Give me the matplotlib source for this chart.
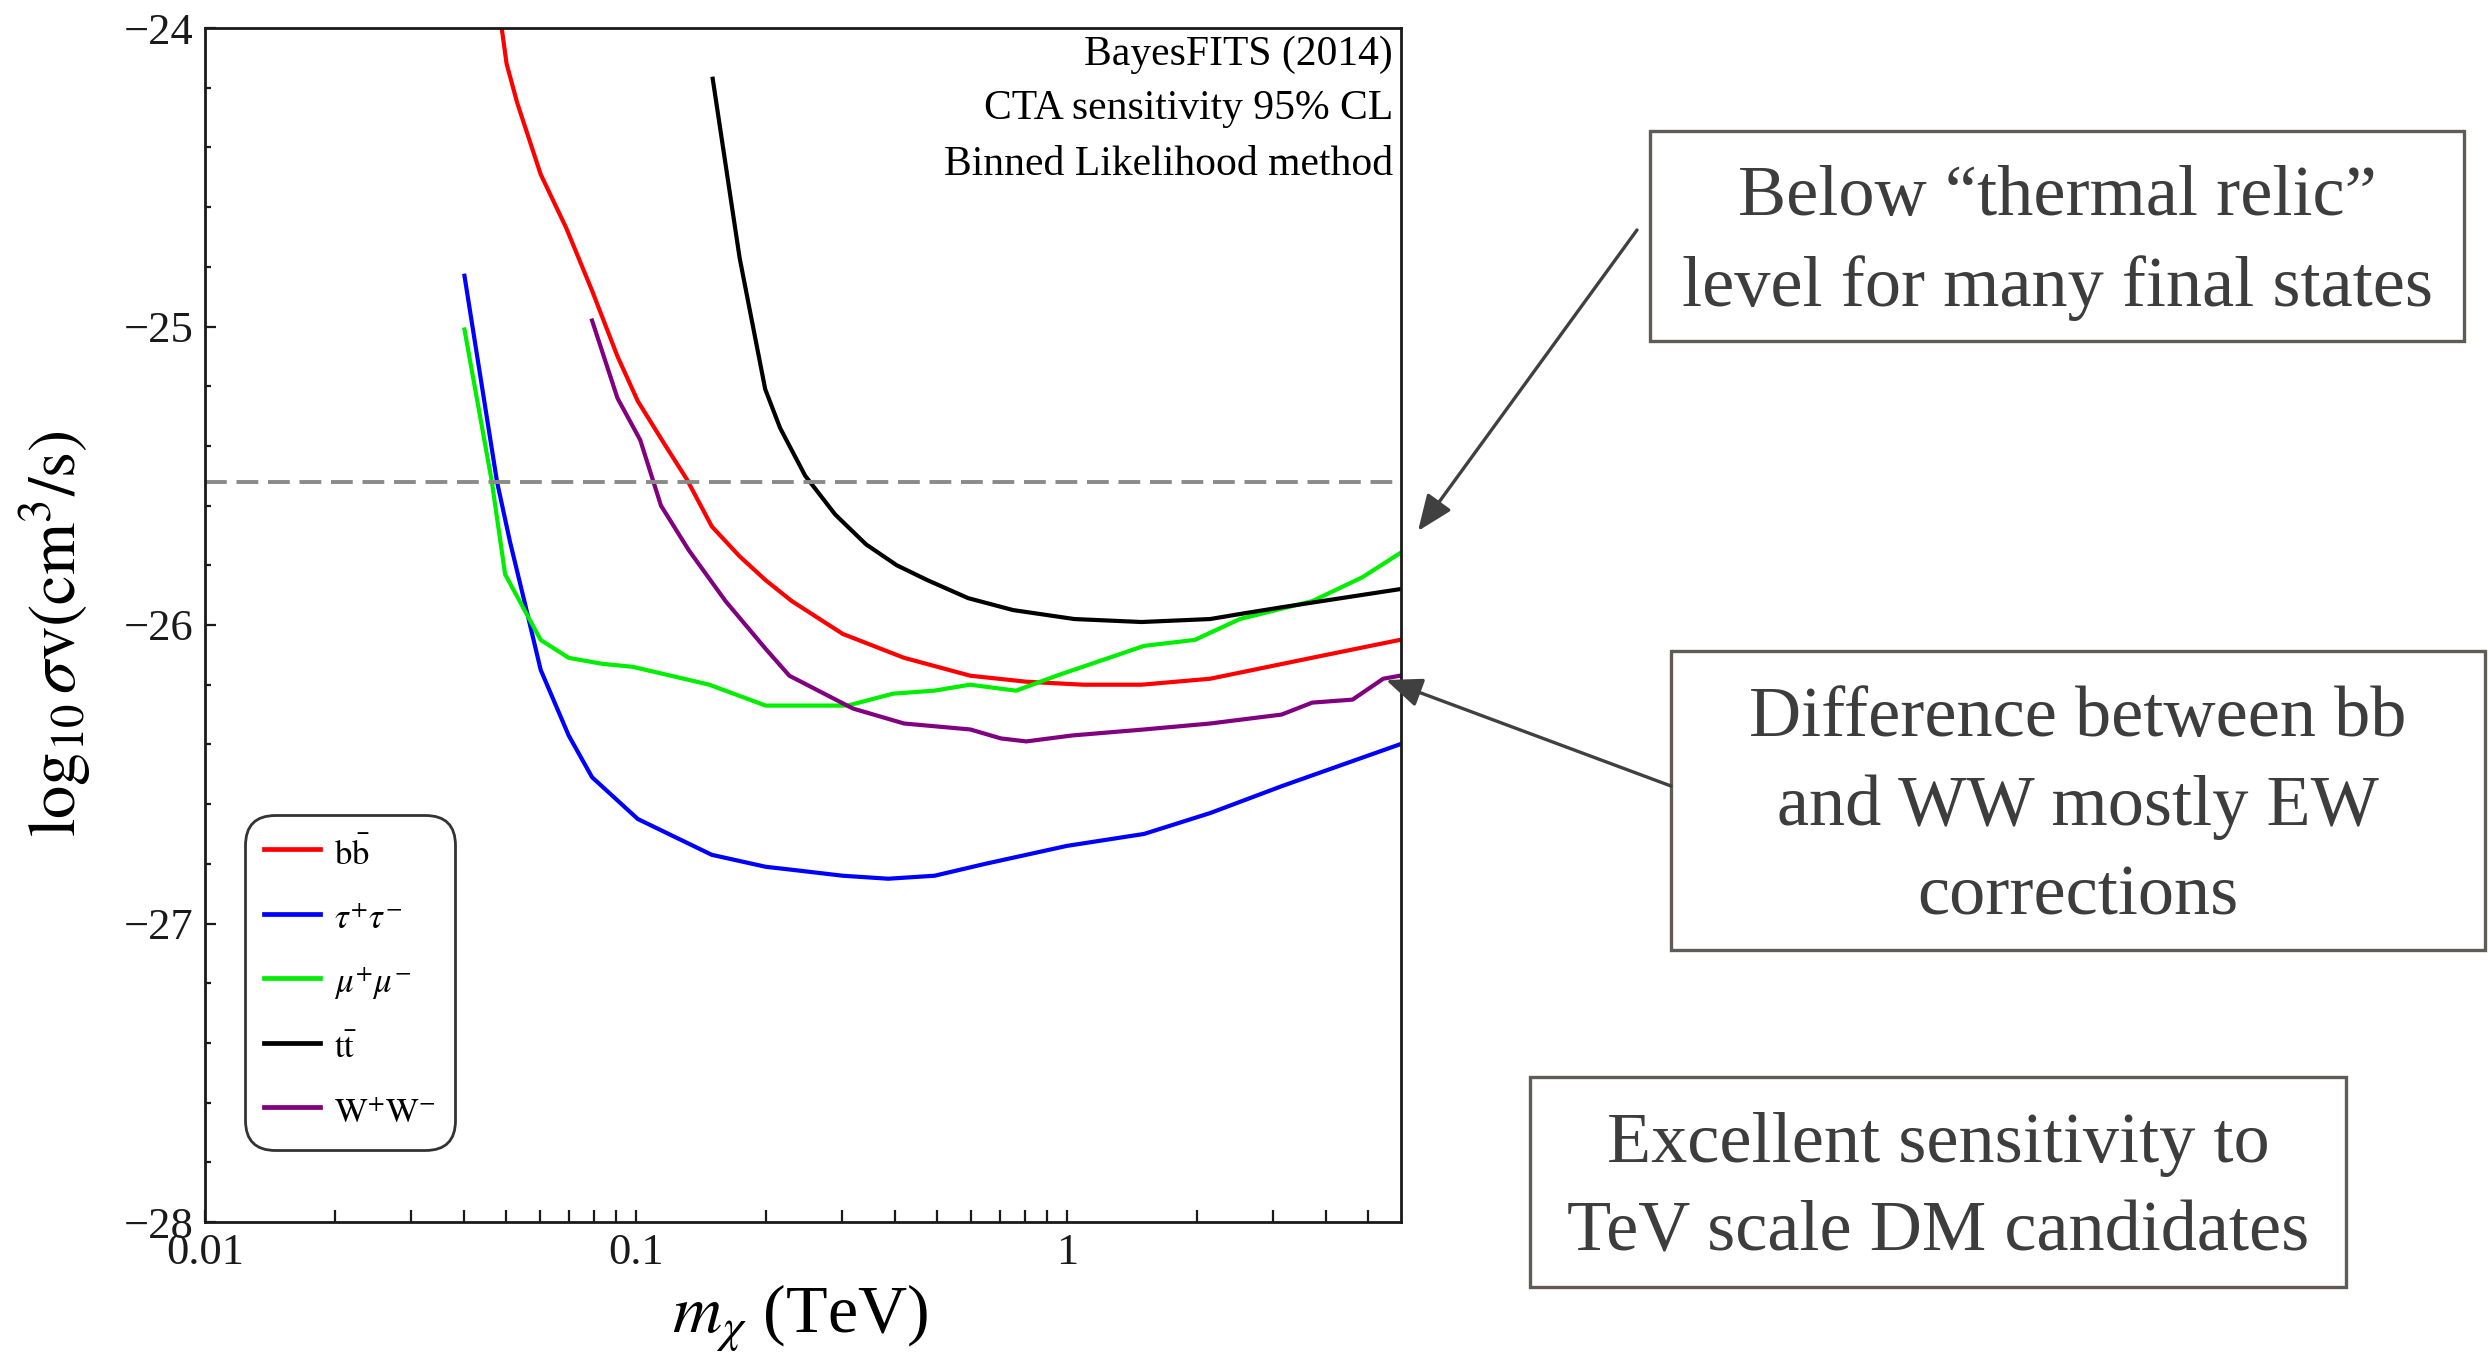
import numpy as np
import matplotlib.pyplot as plt
from matplotlib.ticker import FixedLocator, MultipleLocator, NullFormatter
from matplotlib.patches import Rectangle, FancyArrowPatch

plt.rcParams['font.family'] = ['Liberation Serif', 'DejaVu Serif']
plt.rcParams['mathtext.fontset'] = 'stix'
plt.rcParams['axes.unicode_minus'] = True

# ==============================
#  CTA sensitivity curves: m_chi [TeV] vs log10 <sigma v> [cm^3/s]
# ==============================
m_bb = [0.0488, 0.0501, 0.0530, 0.0601, 0.0689, 0.0791, 0.0906, 0.101, 0.116,
        0.131, 0.150, 0.174, 0.200, 0.230, 0.302, 0.419, 0.597, 0.805, 1.09,
        1.49, 2.15, 3.70, 5.92]
sv_bb = [-24.00, -24.12, -24.25, -24.49, -24.67, -24.88, -25.10, -25.25, -25.39,
         -25.51, -25.67, -25.77, -25.85, -25.92, -26.03, -26.11, -26.17, -26.19,
         -26.20, -26.20, -26.18, -26.11, -26.05]

m_tau = [0.0400, 0.0476, 0.0510, 0.0553, 0.0601, 0.0698, 0.0791, 0.101, 0.150,
         0.200, 0.230, 0.302, 0.385, 0.493, 0.647, 1.00, 1.51, 2.15, 3.15, 5.92]
sv_tau = [-24.83, -25.52, -25.72, -25.93, -26.15, -26.37, -26.51, -26.65, -26.77,
          -26.81, -26.82, -26.84, -26.85, -26.84, -26.80, -26.74, -26.70, -26.63,
          -26.54, -26.40]

m_mu = [0.0400, 0.0463, 0.0497, 0.0601, 0.0698, 0.0834, 0.0982, 0.148, 0.200,
        0.310, 0.395, 0.492, 0.596, 0.762, 0.946, 1.51, 1.98, 2.52, 3.71, 4.85,
        5.92]
sv_mu = [-25.01, -25.52, -25.83, -26.05, -26.11, -26.13, -26.14, -26.20, -26.27,
         -26.27, -26.23, -26.22, -26.20, -26.22, -26.17, -26.07, -26.05, -25.98,
         -25.92, -25.84, -25.76]

m_tt = [0.1507, 0.174, 0.1995, 0.216, 0.247, 0.290, 0.342, 0.403, 0.475, 0.590,
        0.750, 1.04, 1.49, 2.15, 2.60, 3.17, 5.92]
sv_tt = [-24.17, -24.77, -25.21, -25.34, -25.50, -25.63, -25.73, -25.80, -25.85,
         -25.91, -25.95, -25.98, -25.99, -25.98, -25.96, -25.94, -25.88]

m_ww = [0.0791, 0.0906, 0.1023, 0.1143, 0.1327, 0.1614, 0.200, 0.227, 0.319,
        0.419, 0.597, 0.703, 0.805, 1.03, 1.51, 2.15, 3.15, 3.71, 4.60, 5.42, 5.92]
sv_ww = [-24.98, -25.24, -25.38, -25.60, -25.75, -25.92, -26.08, -26.17, -26.28,
         -26.33, -26.35, -26.38, -26.39, -26.37, -26.35, -26.33, -26.30, -26.26,
         -26.25, -26.18, -26.17]

thermal_relic = -25.52

channel_labels = [r'$\mathrm{b}\bar{\mathrm{b}}$', r'$\tau^{+}\tau^{-}$',
                  r'$\mu^{+}\mu^{-}$', r'$\mathrm{t}\bar{\mathrm{t}}$',
                  r'$\mathrm{W}^{+}\mathrm{W}^{-}$']
channel_colors = ['#ff0000', '#0000ff', '#00ee00', '#000000', '#800080']

x_ticks = [0.01, 0.1, 1]
x_tick_labels = ['0.01', '0.1', '1']

info_lines = ['BayesFITS (2014)', 'CTA sensitivity 95% CL',
              'Binned Likelihood method']

notes = ['Below \u201cthermal relic\u201d\nlevel for many final states',
         'Difference between bb\nand WW mostly EW\ncorrections',
         'Excellent sensitivity to\nTeV scale DM candidates']

# ==============================
#  Figure
# ==============================
W, H = 2488, 1360
fig = plt.figure(figsize=(W / 100, H / 100), dpi=100)
ax = fig.add_axes([205 / W, 1 - 1222 / H, 1196 / W, 1194 / H])

curves = [(m_bb, sv_bb), (m_tau, sv_tau), (m_mu, sv_mu), (m_tt, sv_tt), (m_ww, sv_ww)]
for (mx, sv), lab, col in zip(curves, channel_labels, channel_colors):
    ax.plot(mx, sv, color=col, lw=3.0, label=lab, solid_joinstyle='round')

ax.axhline(thermal_relic, color='#8a8a8a', lw=2.8, dashes=(5.6, 2.5))

ax.set_xscale('log')
ax.set_xlim(0.01, 5.96)
ax.set_ylim(-28, -24)

ax.xaxis.set_major_locator(FixedLocator(x_ticks))
ax.set_xticklabels(x_tick_labels)
ax.xaxis.set_minor_locator(FixedLocator(
    [k * 10.0 ** e for e in (-2, -1, 0) for k in range(2, 10)]))
ax.xaxis.set_minor_formatter(NullFormatter())
ax.yaxis.set_major_locator(FixedLocator([-28, -27, -26, -25, -24]))
ax.yaxis.set_minor_locator(MultipleLocator(0.2))

ax.tick_params(axis='both', which='both', direction='in', top=False, right=False,
               width=1.6, colors='#1a1a1a', labelsize=32)
ax.tick_params(axis='x', which='both', length=8.5, pad=8)
ax.tick_params(axis='y', which='major', length=8, pad=8.5)
ax.tick_params(axis='y', which='minor', length=4.5)
for sp in ax.spines.values():
    sp.set_linewidth(2.0)
    sp.set_color('#1a1a1a')

ax.set_xlabel(r'$m_{\chi}$ (TeV)', fontsize=49, va='baseline')
ax.xaxis.set_label_coords(0.4975, -0.093)
ax.set_ylabel(r'$\log_{10}\sigma\mathrm{v}(\mathrm{cm}^{3}/\mathrm{s})$',
              fontsize=48, va='center')
ax.yaxis.set_label_coords(-0.125, 0.4925)

for txt, yb in zip(info_lines, [0.969, 0.9238, 0.8769]):
    ax.text(0.9933, yb, txt, transform=ax.transAxes, ha='right', va='baseline',
            fontsize=30)

leg = ax.legend(loc='upper left', bbox_to_anchor=(245 / W, 1 - 815 / H),
                bbox_transform=fig.transFigure, borderaxespad=0, fontsize=25,
                handlelength=1.6, handletextpad=0.4, handleheight=1.3,
                labelspacing=0.74, borderpad=0.55, frameon=True, fancybox=True)
frame = leg.get_frame()
frame.set_boxstyle('round', pad=0, rounding_size=0.85)
frame.set_edgecolor('#333333')
frame.set_linewidth(2.0)
frame.set_alpha(None)
frame.set_facecolor('white')
for line in leg.get_lines():
    line.set_linewidth(3.4)

# ==============================
#  Side notes
# ==============================
boxes = [(1650, 131, 814, 210), (1671, 651, 814, 299), (1530, 1077, 816, 210)]
for (bx, by, bw, bh), note in zip(boxes, notes):
    fig.add_artist(Rectangle((bx / W, 1 - (by + bh) / H), bw / W, bh / H,
                             transform=fig.transFigure, fill=False,
                             edgecolor='#5f5b56', lw=2.4))
    fig.text((bx + bw / 2) / W, 1 - (by + bh / 2 + 7) / H, note, ha='center',
             va='center', ma='center', fontsize=52, color='#3d3d3d',
             linespacing=1.48)

arrows = [((1637, 230), (1418, 531)), ((1671, 786), (1386, 680))]
for (x0, y0), (x1, y1) in arrows:
    fig.add_artist(FancyArrowPatch((x0 / W, 1 - y0 / H), (x1 / W, 1 - y1 / H),
                                   transform=fig.transFigure,
                                   arrowstyle='-|>,head_length=1.1,head_width=0.45',
                                   mutation_scale=20, color='#404040', lw=2.4,
                                   shrinkA=0, shrinkB=0))

fig.savefig('out.png', dpi=100)
